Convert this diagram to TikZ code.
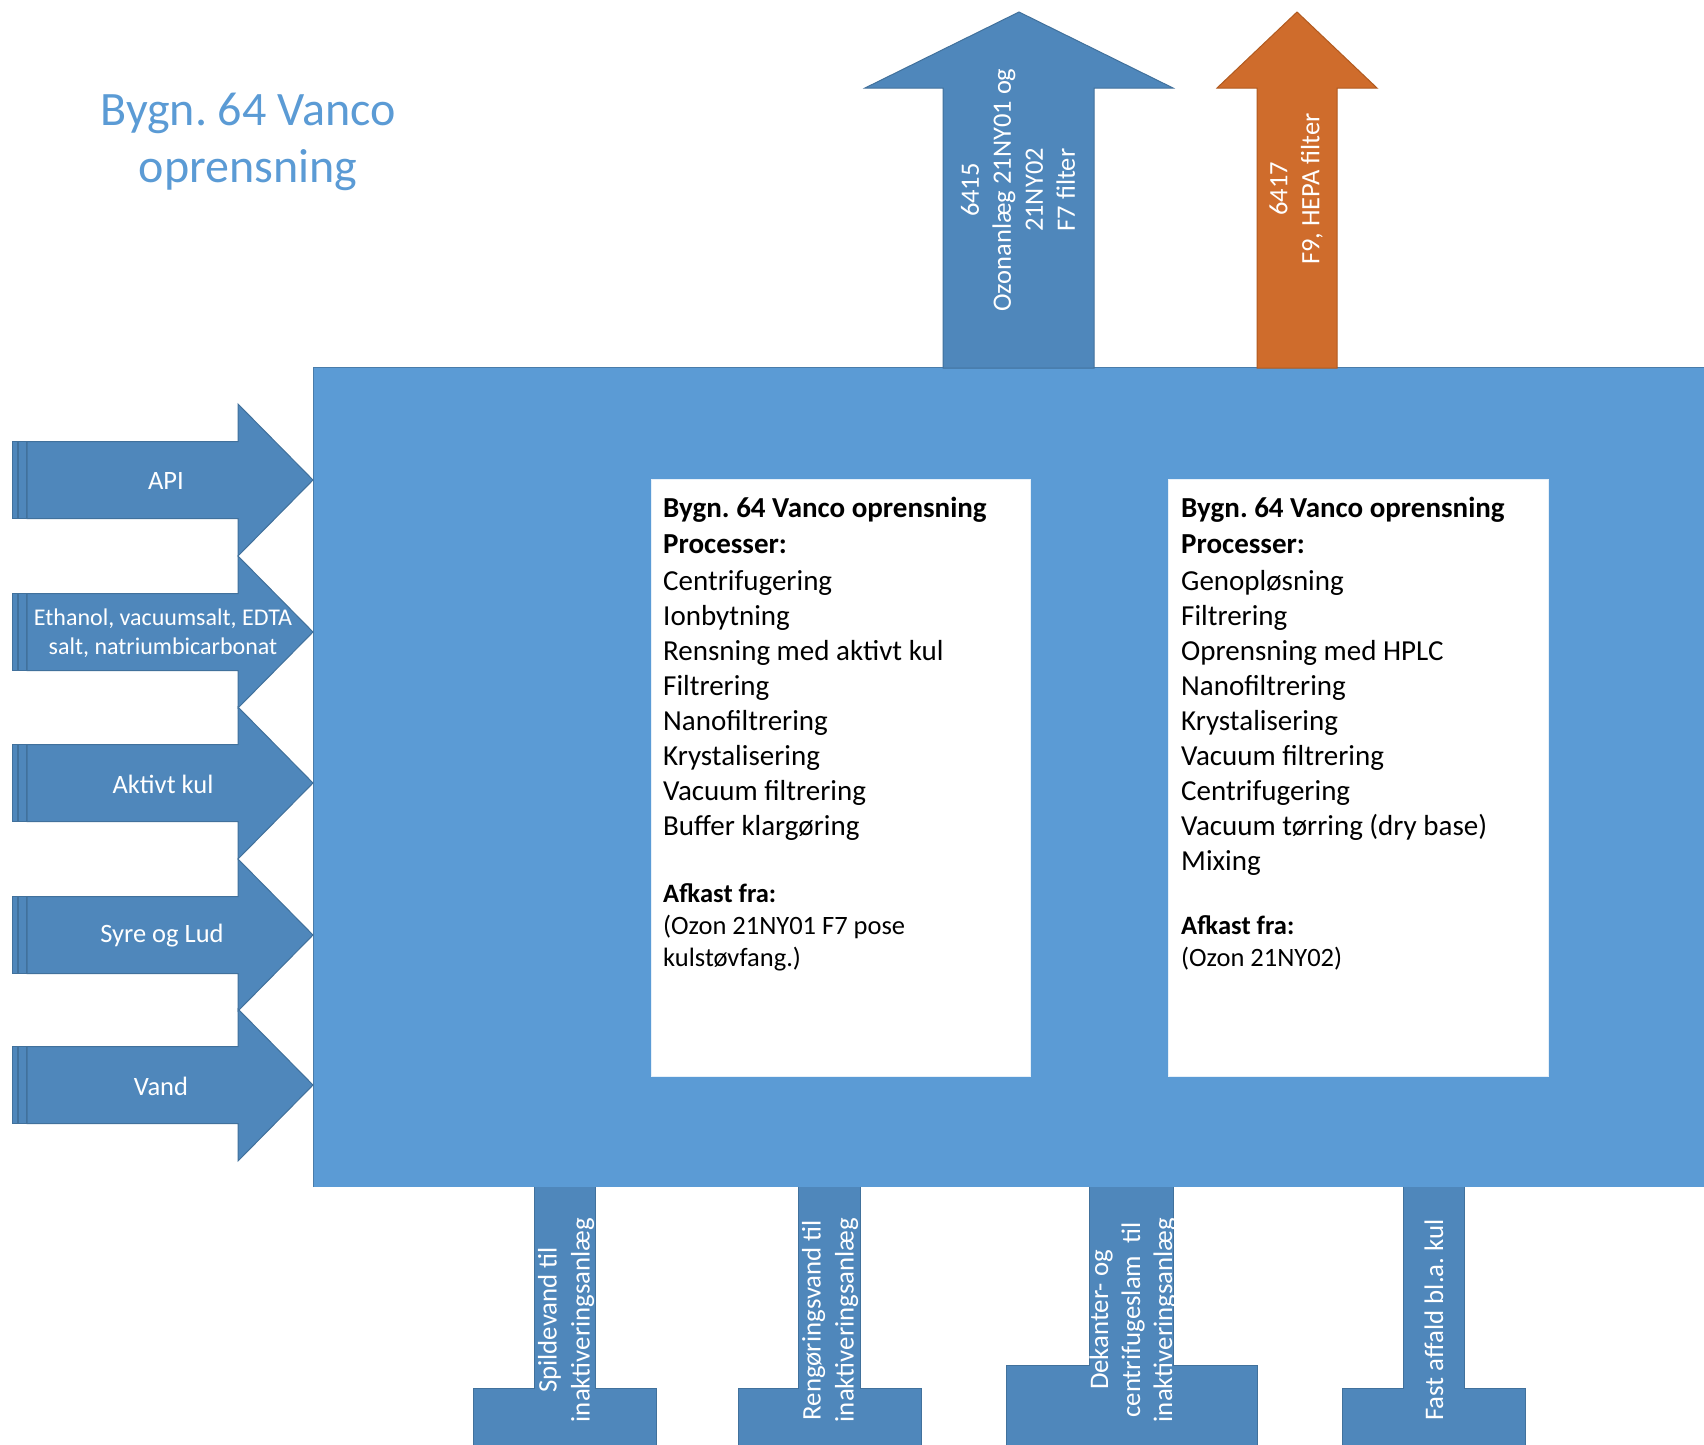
\documentclass[tikz,border=0pt]{standalone}
\usepackage{fontspec}
\setmainfont{Carlito}
\frenchspacing
\definecolor{mainblue}{HTML}{5B9BD5}
\definecolor{arrowblue}{HTML}{4F87BB}
\definecolor{arrowedge}{HTML}{41719C}
\definecolor{orangefill}{HTML}{CF6C2C}
\definecolor{orangeedge}{HTML}{B15A1F}
\tikzset{
  blockarrow/.style={fill=arrowblue, draw=arrowedge, line width=1pt, line join=miter},
  orangearrow/.style={fill=orangefill, draw=orangeedge, line width=1pt},
  arrowtext/.style={text=white, inner sep=0pt, align=center},
  boxline/.style={anchor=base west, inner sep=0pt, text=black},
}
\begin{document}
\begin{tikzpicture}[x=1pt,y=-1pt]
\useasboundingbox (0,0) rectangle (1704,1444);
\fill[white] (0,0) rectangle (1704,1444);

% title
\node[anchor=base, text=mainblue, inner sep=0pt, font=\fontsize{48}{57}\selectfont] (title1) at (248,125) {Bygn. 64 Vanco};
\node[anchor=base, text=mainblue, inner sep=0pt, font=\fontsize{48}{57}\selectfont] (title2) at (248,182) {oprensning};

% main block
\fill[mainblue] (313,367) rectangle (1704,1187);
\draw[color=mainblue!80!black, line width=0.8pt] (313,1187) -- (313,367) -- (1704,367);

% top arrows
\draw[blockarrow] (943,368) -- (943,88) -- (865,88) -- (1019,12) -- (1173,88) -- (1094,88) -- (1094,368) -- cycle;
\node[arrowtext, rotate=90, font=\fontsize{26.5}{32}\selectfont] (top1) at (1018,190) {6415\\Ozonanlæg 21NY01 og\\21NY02\\F7 filter};
\draw[orangearrow] (1257,368) -- (1257,88) -- (1217,88) -- (1297,12) -- (1377,88) -- (1337,88) -- (1337,368) -- cycle;
\node[arrowtext, rotate=90, font=\fontsize{26.5}{32}\selectfont] (top2) at (1296,189) {6417\\F9, HEPA filter};

% left arrows
\foreach \y/\nm in {480/api, 632/eth, 783/kul, 935/syre, 1085/vand}{
  \draw[blockarrow] (12,\y-38.5) rectangle (17,\y+38.5);
  \draw[blockarrow] (18.5,\y-38.5) rectangle (26,\y+38.5);
  \draw[blockarrow] (27,\y-38.5) -- (238,\y-38.5) -- (238,\y-76) -- (313,\y) -- (238,\y+76) -- (238,\y+38.5) -- (27,\y+38.5) -- cycle;
}
\node[arrowtext, font=\fontsize{26.5}{30}\selectfont] (tapi) at (166,481) {API};
\node[arrowtext, font=\fontsize{24}{29.5}\selectfont] (teth) at (163,633) {Ethanol, vacuumsalt, EDTA\\salt, natriumbicarbonat};
\node[arrowtext, font=\fontsize{26.5}{30}\selectfont] (tkul) at (163,784) {Aktivt kul};
\node[arrowtext, font=\fontsize{26.5}{30}\selectfont] (tsyre) at (162,936) {Syre og Lud};
\node[arrowtext, font=\fontsize{26.5}{30}\selectfont] (tvand) at (161,1086) {Vand};

% bottom arrows
\foreach \sl/\sr/\wl/\wr/\wy in {534/595/473/656/1388, 798/860/738/921/1388, 1089/1173/1006/1257/1365, 1403/1464/1342/1525/1388}{
  \draw[blockarrow] (\sl,1187) -- (\sl,\wy) -- (\wl,\wy) -- (\wl,1445) -- (\wr,1445) -- (\wr,\wy) -- (\sr,\wy) -- (\sr,1187);
}
\node[arrowtext, rotate=90, font=\fontsize{26.8}{33}\selectfont] (b1) at (566,1320) {Spildevand til\\inaktiveringsanlæg};
\node[arrowtext, rotate=90, font=\fontsize{26.8}{33}\selectfont] (b2) at (830,1320) {Rengøringsvand til\\inaktiveringsanlæg};
\node[arrowtext, rotate=90, font=\fontsize{26.8}{32}\selectfont] (b3) at (1133,1320) {Dekanter- og\\centrifugeslam\ \ til\\inaktiveringsanlæg};
\node[arrowtext, rotate=90, font=\fontsize{26.8}{32}\selectfont] (b4) at (1434,1320) {Fast affald bl.a. kul};

% white boxes
\draw[fill=white, draw=white!85!mainblue, line width=1pt] (651,479) rectangle (1030,1076);
\draw[fill=white, draw=white!85!mainblue, line width=1pt] (1168,479) rectangle (1548,1076);

% box 1 text
\node[boxline, font=\fontsize{29}{35}\selectfont\bfseries] (a0) at (663,517) {Bygn. 64 Vanco oprensning};
\node[boxline, font=\fontsize{29}{35}\selectfont\bfseries] (a1) at (663,553) {Processer:};
\foreach \t [count=\k from 0] in {Centrifugering, Ionbytning, Rensning med aktivt kul, Filtrering, Nanofiltrering, Krystalisering, Vacuum filtrering, Buffer klargøring}{
  \node[boxline, font=\fontsize{29}{35}\selectfont] (ap\k) at (663,590+35*\k) {\t};
}
\node[boxline, font=\fontsize{26.5}{32}\selectfont\bfseries] (aaf) at (663,902) {Afkast fra:};
\node[boxline, font=\fontsize{26.5}{32}\selectfont] (aoz) at (663,934) {(Ozon 21NY01 F7 pose};
\node[boxline, font=\fontsize{26.5}{32}\selectfont] (aku) at (663,966) {kulstøvfang.)};

% box 2 text
\node[boxline, font=\fontsize{29}{35}\selectfont\bfseries] (c0) at (1181,517) {Bygn. 64 Vanco oprensning};
\node[boxline, font=\fontsize{29}{35}\selectfont\bfseries] (c1) at (1181,553) {Processer:};
\foreach \t [count=\k from 0] in {Genopløsning, Filtrering, Oprensning med HPLC, Nanofiltrering, Krystalisering, Vacuum filtrering, Centrifugering, Vacuum tørring (dry base), Mixing}{
  \node[boxline, font=\fontsize{29}{35}\selectfont] (cp\k) at (1181,590+35*\k) {\t};
}
\node[boxline, font=\fontsize{26.5}{32}\selectfont\bfseries] (caf) at (1181,934) {Afkast fra:};
\node[boxline, font=\fontsize{26.5}{32}\selectfont] (coz) at (1181,966) {(Ozon 21NY02)};
\end{tikzpicture}
\end{document}
